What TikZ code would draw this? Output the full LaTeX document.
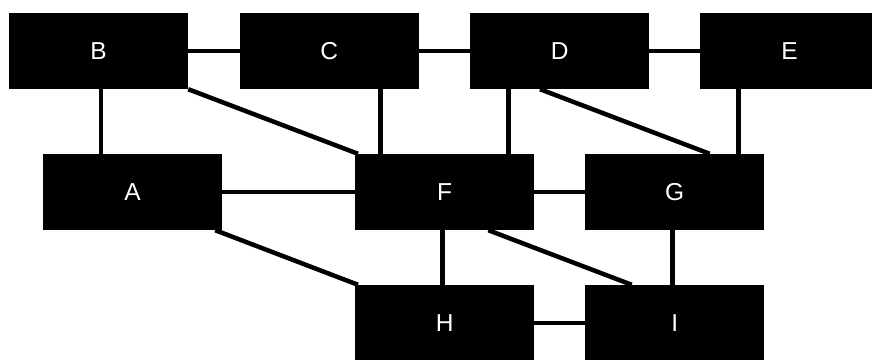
\documentclass[tikz,border=0pt]{standalone}
\usepackage{fontspec}
\setmainfont{Liberation Sans}
\usetikzlibrary{calc}
\pgfdeclarelayer{bg}
\pgfsetlayers{bg,main}
\tikzset{
  box/.style={fill=black, text=white, minimum width=179pt, minimum height=76pt,
              inner sep=0pt, font=\fontsize{24.5}{28}\selectfont},
  link/.style={line width=4.5pt, black}
}
\begin{document}
\begin{tikzpicture}[x=1pt,y=-1pt]
\useasboundingbox (0,0) rectangle (872,359);
% row 1
\node[box] (B) at (98.5,51) {B};
\node[box] (C) at (329.2,51) {C};
\node[box] (D) at (559.7,51) {D};
\node[box] (E) at (789.5,51) {E};
% row 2
\node[box] (A) at (132.5,192) {A};
\node[box] (F) at (444.7,192) {F};
\node[box] (G) at (674.7,192) {G};
% row 3
\node[box] (H) at (444.7,323) {H};
\node[box] (I) at (674.7,323) {I};
\begin{pgfonlayer}{bg}
\draw[link] (B) -- (C);
\draw[link] (C) -- (D);
\draw[link] (D) -- (E);
\draw[link] ([xshift=2.5pt]B.south) -- ([xshift=2.5pt]B.south |- A.north);
\draw[link] (B.south east) -- ([xshift=3pt]F.north west);
\draw[link] ([xshift=51.5pt]C.south) -- ([xshift=51.5pt]C.south |- F.north);
\draw[link] ([xshift=-51.4pt]D.south) -- ([xshift=-51.4pt]D.south |- F.north);
\draw[link] ([xshift=-19.7pt]D.south) -- ([xshift=35pt]G.north);
\draw[link] ([xshift=-51pt]E.south) -- ([xshift=-51pt]E.south |- G.north);
\draw[link] (A) -- (F);
\draw[link] (F) -- (G);
\draw[link] ([xshift=-7pt]A.south east) -- ([xshift=3pt]H.north west);
\draw[link] ([xshift=-2.4pt]F.south) -- ([xshift=-2.4pt]F.south |- H.north);
\draw[link] ([xshift=43.6pt]F.south) -- ([xshift=-43pt]I.north);
\draw[link] ([xshift=-2.4pt]G.south) -- ([xshift=-2.4pt]G.south |- I.north);
\draw[link] (H) -- (I);
\end{pgfonlayer}
\end{tikzpicture}
\end{document}
